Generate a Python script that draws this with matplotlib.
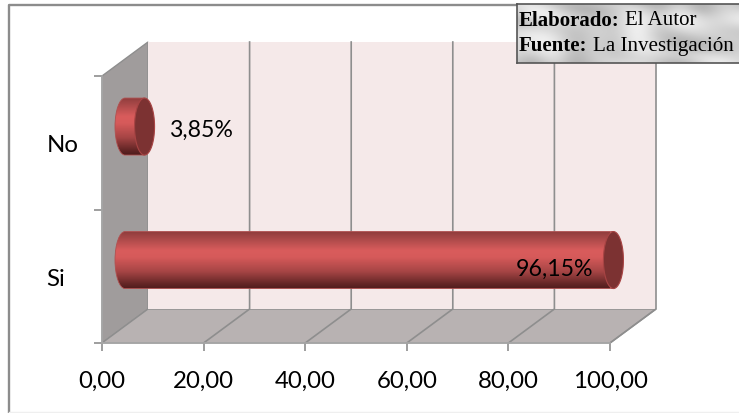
import numpy as np
import matplotlib
matplotlib.use('Agg')
import matplotlib.pyplot as plt
from matplotlib.patches import Polygon, PathPatch, Rectangle
from matplotlib.path import Path
from matplotlib.colors import LinearSegmentedColormap

# === Data ===
categories = ['Si', 'No']
values = [96.15, 3.85]
value_labels = ['96,15%', '3,85%']
x_ticks = [0, 20, 40, 60, 80, 100]
x_tick_labels = ['0,00', '20,00', '40,00', '60,00', '80,00', '100,00']

W, H = 739, 414
fig = plt.figure(figsize=(W / 100, H / 100), dpi=100, facecolor='white')

# frame of the whole picture: only left and top really show
bg = fig.add_axes([0, 0, 1, 1])
bg.set_xlim(0, W)
bg.set_ylim(H, 0)
bg.axis('off')
bg.plot([9, 9, 517], [414, 6, 6], color='#8c8c8c', lw=1.7)
bg.plot([9, 739], [413, 413], color='#efefef', lw=1)

# axes = front plane of the 3D box
ax = fig.add_axes([102 / W, 1 - 344 / H, 508 / W, 267 / H])
ax.set_xlim(0, 100)
ax.set_ylim(0, 2)
ax.patch.set_alpha(0)
for s in ['top', 'right']:
    ax.spines[s].set_visible(False)
for s in ['left', 'bottom']:
    ax.spines[s].set_color('#a8a8a8')
    ax.spines[s].set_linewidth(1.2)

# depth of the box, in data units
dx = 46 / 508 * 100
dy = 34 / 133.5

line = '#8e8e8e'
# side wall, floor, back wall
ax.add_patch(Polygon([(0, 0), (dx, dy), (dx, 2 + dy), (0, 2)], fc='#a09c9c', ec=line, lw=1, clip_on=False, zorder=1))
ax.add_patch(Polygon([(0, 0), (100, 0), (100 + dx, dy), (dx, dy)], fc='#b8b2b2', ec=line, lw=1, clip_on=False, zorder=1))
ax.add_patch(Rectangle((dx, dy), 100, 2, fc='#f5e9e9', ec='none', clip_on=False, zorder=1))
for t in x_ticks[1:]:
    ax.plot([t, t + dx, t + dx], [0, dy, 2 + dy], color=line, lw=1.2, clip_on=False, zorder=2)

# cylinders
shade = LinearSegmentedColormap.from_list('cyl', [
    (0.0, '#8e3c3c'), (0.12, '#a84848'), (0.33, '#d95c5c'), (0.45, '#d65a5a'),
    (0.7, '#a64545'), (0.9, '#682828'), (1.0, '#4e1c1c')])
grad = np.linspace(0, 1, 128).reshape(-1, 1)
half = 0.2135
rx = 10 / 508 * 100
lift = -0.006
for i, v in enumerate(values):
    x0 = dx / 2
    x1 = v + dx / 2
    yc = i + 0.5 + dy / 2 + lift
    k = 0.5523
    verts = [(x1, yc + half), (x0, yc + half),
             (x0 - k * rx, yc + half), (x0 - rx, yc + k * half), (x0 - rx, yc),
             (x0 - rx, yc - k * half), (x0 - k * rx, yc - half), (x0, yc - half),
             (x1, yc - half), (x1, yc + half)]
    codes = [Path.MOVETO, Path.LINETO, Path.CURVE4, Path.CURVE4, Path.CURVE4,
             Path.CURVE4, Path.CURVE4, Path.CURVE4, Path.LINETO, Path.CLOSEPOLY]
    body = PathPatch(Path(verts, codes), fc='none', ec='#b05050', lw=0.6, clip_on=False, zorder=4)
    ax.add_patch(body)
    im = ax.imshow(grad, cmap=shade, extent=(x0 - rx, x1, yc - half, yc + half),
                   aspect='auto', zorder=3, origin='upper')
    im.set_clip_path(body)
    th = np.linspace(0, 2 * np.pi, 80)
    ax.add_patch(Polygon(np.c_[x1 + rx * np.cos(th), yc + half * np.sin(th)],
                         fc='#7c3232', ec='#a84444', lw=0.8, clip_on=False, zorder=5))

ax.set_xlim(0, 100)
ax.set_ylim(0, 2)

# data labels
ax.text(values[0] + dx / 2 - 3.9, 0.5 + dy / 2 - 0.07, value_labels[0], ha='right', va='center',
        fontsize=16.7, family='Lato', color='black', zorder=6)
ax.text(values[1] + dx / 2 + 4.8, 1.5 + dy / 2 - 0.03, value_labels[1], ha='left', va='center',
        fontsize=16.7, family='Lato', color='black', zorder=6)

# ticks
ax.set_xticks(x_ticks)
ax.set_xticklabels(x_tick_labels, fontsize=17.3, family='Lato')
ax.set_yticks([0, 1, 2])
ax.set_yticklabels([])
ax.set_yticks([0.5, 1.5], minor=True)
ax.set_yticklabels(categories, minor=True, fontsize=17.3, family='Lato', ha='left')
ax.tick_params(axis='y', which='minor', length=0, pad=40)
ax.tick_params(axis='both', which='major', length=5.5, color='#8e8e8e', width=1.2)
ax.tick_params(axis='x', pad=13.5)

# marble note box
nb = fig.add_axes([517 / W, 1 - 64 / H, 222 / W, 59 / H])
yy, xx = np.mgrid[0:59, 0:222]
marble = (0.62 + 0.18 * np.sin(xx / 29.0 + yy / 13.0 + 2.2 * np.sin(xx / 47.0 - yy / 19.0))
          + 0.12 * np.sin(xx / 11.0 - yy / 7.0 + 1.8 * np.cos(yy / 15.0 + xx / 37.0)))
nb.imshow(marble, cmap=LinearSegmentedColormap.from_list('marble', ['#b4b4b4', '#d6d6d6', '#f6f6f6']),
          extent=(0, 222, 59, 0), aspect='auto', vmin=0.3, vmax=1)
nb.set_xticks([])
nb.set_yticks([])
for s in ['left', 'top', 'bottom']:
    nb.spines[s].set_color('#555555')
    nb.spines[s].set_linewidth(1.2)
nb.spines['right'].set_visible(False)
serif = 'Liberation Serif'
nb.text(1.5, 15.5, 'Elaborado:', family=serif, weight='bold', fontsize=15, va='center')
nb.text(108, 15.5, 'El Autor', family=serif, fontsize=15, va='center')
nb.text(1.5, 41, 'Fuente:', family=serif, weight='bold', fontsize=15, va='center')
nb.text(76, 41, 'La Investigación', family=serif, fontsize=15.1, va='center')

fig.savefig('out.png', dpi=100)
